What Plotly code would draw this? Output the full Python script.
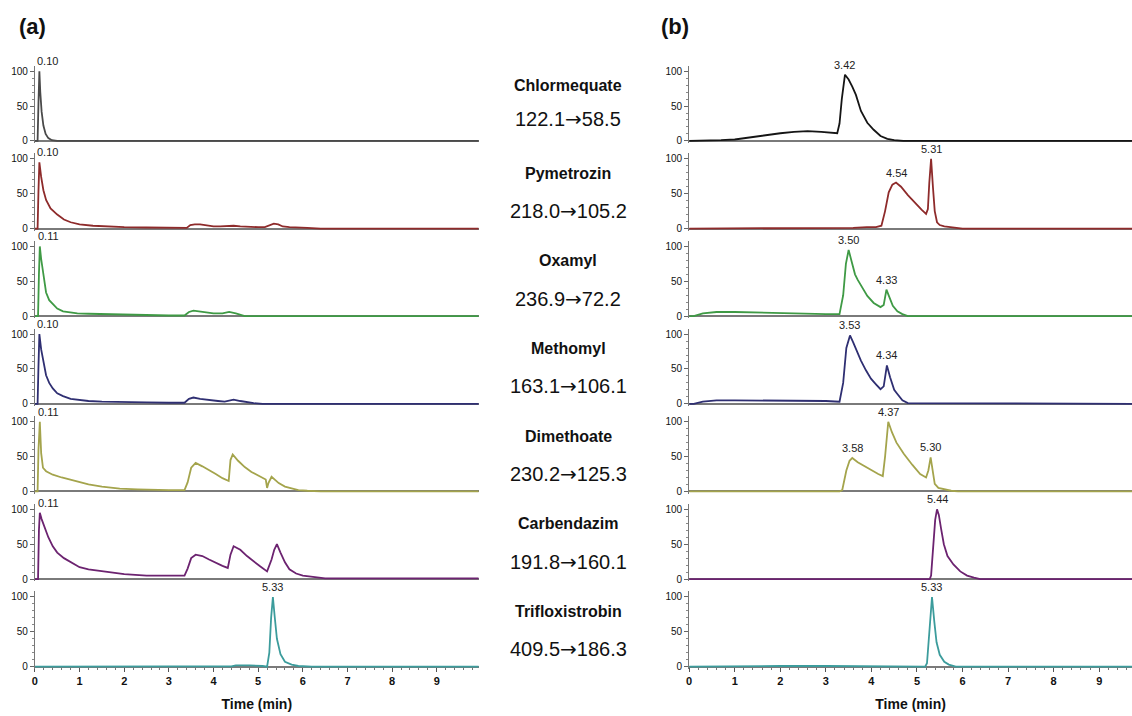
import plotly.graph_objects as go

# ---------------- data ----------------
compounds = ["Chlormequate", "Pymetrozin", "Oxamyl", "Methomyl",
             "Dimethoate", "Carbendazim", "Trifloxistrobin"]
precursor_ions = ["122.1", "218.0", "236.9", "163.1", "230.2", "191.8", "409.5"]
product_ions = ["58.5", "105.2", "72.2", "106.1", "125.3", "160.1", "186.3"]
time_ticks = [0, 1, 2, 3, 4, 5, 6, 7, 8, 9]
intensity_ticks = [0, 50, 100]

# (a) chromatograms: retention time (min) and relative intensity (%)
t_a_chlormequate = [0, 0.06, 0.08, 0.10, 0.12, 0.15, 0.19, 0.24, 0.30, 0.38, 0.5, 9.94]
i_a_chlormequate = [0, 0, 55, 100, 70, 42, 22, 10, 4, 1, 0, 0]

t_a_pymetrozin = [0, 0.06, 0.08, 0.10, 0.14, 0.19, 0.25, 0.35, 0.5, 0.65, 0.8, 1.0, 1.3, 1.6,
                  2.0, 2.5, 3.0, 3.4, 3.48, 3.58, 3.7, 3.85, 4.0, 4.15, 4.3, 4.45, 4.6, 4.8,
                  5.0, 5.15, 5.25, 5.35, 5.45, 5.55, 5.7, 5.9, 6.1, 6.4, 9.94]
i_a_pymetrozin = [0, 0, 55, 95, 74, 55, 41, 29, 20, 13, 9, 6, 4, 3,
                  2, 1.5, 1, 1, 5, 6, 6, 4, 3, 3, 4, 4, 3, 2,
                  2, 2, 5, 7, 6, 3, 2, 1, 1, 0, 0]

t_a_oxamyl = [0, 0.07, 0.09, 0.11, 0.14, 0.18, 0.25, 0.32, 0.4, 0.5, 0.63, 0.8, 0.95, 1.2,
              1.5, 2.0, 2.5, 3.0, 3.35, 3.45, 3.55, 3.7, 3.85, 4.0, 4.2, 4.35, 4.5, 4.6,
              4.7, 9.94]
i_a_oxamyl = [0, 0, 60, 100, 82, 62, 34, 23, 17, 11, 7, 5, 4, 3.5,
              3, 2, 2, 1, 1, 6, 8, 7, 5, 4, 4, 6, 4, 2,
              0, 0]

t_a_methomyl = [0, 0.06, 0.08, 0.10, 0.14, 0.18, 0.25, 0.32, 0.4, 0.5, 0.63, 0.8, 1.0, 1.2,
                1.5, 2.0, 2.5, 3.0, 3.35, 3.45, 3.55, 3.7, 3.9, 4.1, 4.25, 4.35, 4.45, 4.6,
                4.75, 4.9, 5.1, 9.94]
i_a_methomyl = [0, 0, 55, 100, 78, 65, 41, 30, 22, 15, 11, 7, 5, 4,
                3, 2, 2, 1.5, 1.5, 7, 9, 7, 5, 4, 3, 5, 6, 4,
                2, 1, 0, 0]

t_a_dimethoate = [0, 0.06, 0.08, 0.11, 0.14, 0.18, 0.25, 0.4, 0.6, 0.8, 1.0, 1.2, 1.5, 1.9,
                  2.3, 2.7, 3.0, 3.35, 3.42, 3.5, 3.6, 3.75, 3.9, 4.05, 4.2, 4.34, 4.38, 4.43,
                  4.55, 4.7, 4.85, 5.0, 5.17, 5.2, 5.23, 5.3, 5.38, 5.46, 5.6, 5.75, 5.9, 6.1,
                  6.4, 9.94]
i_a_dimethoate = [0, 0, 60, 100, 55, 34, 29, 24, 20, 17, 13, 10, 7, 4,
                  3, 2, 2, 2, 13, 34, 41, 36, 31, 25, 19, 15, 45, 53,
                  44, 35, 28, 23, 17, 5, 12, 21, 16, 12, 7, 4, 2, 1,
                  0, 0]

t_a_carbendazim = [0, 0.07, 0.09, 0.11, 0.15, 0.2, 0.3, 0.4, 0.5, 0.65, 0.8, 1.0, 1.2, 1.5,
                   1.8, 2.0, 2.5, 3.0, 3.35, 3.42, 3.5, 3.6, 3.75, 3.9, 4.05, 4.2, 4.32, 4.38,
                   4.45, 4.6, 4.75, 4.9, 5.05, 5.2, 5.3, 5.36, 5.42, 5.5, 5.6, 5.7, 5.85, 6.0,
                   6.2, 6.5, 9.94]
i_a_carbendazim = [0, 0, 70, 95, 86, 77, 60, 47, 38, 30, 24, 17, 14, 11,
                   9, 7, 5, 5, 5, 15, 30, 35, 33, 28, 23, 19, 16, 35,
                   47, 42, 33, 25, 18, 11, 28, 42, 50, 38, 24, 14, 8, 5,
                   3, 1, 1]

t_a_trifloxistrobin = [0, 1.0, 2.0, 3.0, 4.4, 4.5, 4.8, 5.0, 5.1, 5.2, 5.25, 5.29, 5.33, 5.37,
                       5.42, 5.5, 5.6, 5.75, 5.9, 6.2, 9.94]
i_a_trifloxistrobin = [0, 0.5, 0.5, 0.5, 0.5, 2, 2, 2, 1, 0, 20, 70, 100, 72,
                       40, 18, 7, 3, 1, 0, 0]

# (b) chromatograms
t_b_chlormequate = [0, 0.4, 0.7, 1.0, 1.3, 1.6, 2.0, 2.3, 2.6, 2.9, 3.1, 3.25, 3.3, 3.35,
                    3.42, 3.5, 3.58, 3.66, 3.77, 3.91, 4.05, 4.2, 4.35, 4.5, 4.7, 9.72]
i_b_chlormequate = [0, 0, 1, 2, 5, 8, 11, 13, 14, 13, 12, 11, 25, 60,
                    95, 88, 78, 66, 43, 26, 16, 7, 3, 1, 0, 0]

t_b_pymetrozin = [0, 3.3, 3.6, 3.9, 4.1, 4.22, 4.3, 4.38, 4.46, 4.54, 4.65, 4.8, 4.95, 5.1,
                  5.2, 5.24, 5.27, 5.31, 5.35, 5.39, 5.44, 5.5, 5.6, 5.8, 6.0, 9.72]
i_b_pymetrozin = [0, 0, 1, 2, 2, 4, 25, 52, 63, 66, 60, 48, 37, 27,
                  21, 28, 65, 100, 60, 25, 9, 5, 3, 1, 0, 0]

t_b_oxamyl = [0, 0.1, 0.3, 0.6, 1.0, 1.5, 2.0, 2.5, 3.0, 3.3, 3.38, 3.44, 3.5, 3.56,
              3.64, 3.7, 3.8, 3.91, 4.05, 4.2, 4.27, 4.33, 4.39, 4.47, 4.57, 4.68, 4.8, 9.72]
i_b_oxamyl = [0, 0, 4, 6, 6, 5, 4, 3, 3, 3, 30, 75, 95, 80,
              60, 52, 40, 29, 19, 13, 16, 38, 28, 15, 7, 3, 0, 0]

t_b_methomyl = [0, 0.1, 0.3, 0.6, 1.0, 1.5, 2.0, 2.5, 3.0, 3.3, 3.38, 3.45, 3.53, 3.6,
                3.68, 3.77, 3.88, 3.99, 4.1, 4.2, 4.27, 4.34, 4.41, 4.5, 4.57, 4.68, 4.8, 9.72]
i_b_methomyl = [0, 0, 3, 5, 5, 5, 5, 4, 4, 3, 30, 80, 98, 88,
                75, 62, 48, 36, 28, 21, 25, 55, 38, 20, 14, 5, 1, 0]

t_b_dimethoate = [0, 3.3, 3.36, 3.45, 3.52, 3.58, 3.7, 3.85, 4.0, 4.15, 4.25, 4.3, 4.37, 4.45,
                  4.55, 4.71, 4.9, 5.07, 5.2, 5.25, 5.3, 5.35, 5.39, 5.47, 5.59, 5.75, 5.9, 9.72]
i_b_dimethoate = [0, 0, 2, 30, 44, 48, 42, 36, 30, 25, 22, 50, 100, 85,
                  70, 54, 38, 25, 20, 30, 49, 30, 11, 5, 3, 1, 0, 0]

t_b_carbendazim = [0, 5.28, 5.31, 5.36, 5.40, 5.44, 5.48, 5.53, 5.59, 5.67, 5.8, 5.95, 6.1,
                   6.25, 6.39, 9.72]
i_b_carbendazim = [0, 0, 5, 50, 85, 100, 92, 72, 50, 33, 21, 11, 5,
                   2, 0, 0]

t_b_trifloxistrobin = [0, 1.0, 2.0, 3.0, 4.0, 4.4, 4.5, 5.18, 5.22, 5.27, 5.33, 5.38, 5.43,
                       5.5, 5.6, 5.7, 5.85, 9.72]
i_b_trifloxistrobin = [0, 1, 1, 1, 1, 1, 0, 0, 5, 55, 100, 65, 35,
                       17, 7, 3, 0, 0]

# labelled apexes: (retention time, relative intensity)
peaks_a = [[(0.10, 100)], [(0.10, 95)], [(0.11, 100)], [(0.10, 100)],
           [(0.11, 100)], [(0.11, 95)], [(5.33, 100)]]
peaks_b = [[(3.42, 95)], [(4.54, 66), (5.31, 100)], [(3.50, 95), (4.33, 38)],
           [(3.53, 98), (4.34, 55)], [(3.58, 48), (4.37, 100), (5.30, 49)],
           [(5.44, 100)], [(5.33, 100)]]

series_a = [(t_a_chlormequate, i_a_chlormequate), (t_a_pymetrozin, i_a_pymetrozin),
            (t_a_oxamyl, i_a_oxamyl), (t_a_methomyl, i_a_methomyl),
            (t_a_dimethoate, i_a_dimethoate), (t_a_carbendazim, i_a_carbendazim),
            (t_a_trifloxistrobin, i_a_trifloxistrobin)]
series_b = [(t_b_chlormequate, i_b_chlormequate), (t_b_pymetrozin, i_b_pymetrozin),
            (t_b_oxamyl, i_b_oxamyl), (t_b_methomyl, i_b_methomyl),
            (t_b_dimethoate, i_b_dimethoate), (t_b_carbendazim, i_b_carbendazim),
            (t_b_trifloxistrobin, i_b_trifloxistrobin)]

# ---------------- styling / layout ----------------
W, H = 1132, 716
FONT = "Liberation Sans, Arial, sans-serif"
ARROW_FONT = "DejaVu Sans"
colors_a = ["#4a4a4a", "#8e2b2b", "#3f9a45", "#2f2f72", "#a4a44c", "#6c2370", "#3c9c9c"]
colors_b = ["#151515", "#8e2b2b", "#3f9a45", "#2f2f72", "#a4a44c", "#6c2370", "#3c9c9c"]

X_DOM = [(32, 477), (688, 1132)]
X_MAX = [9.94, 9.72]
Y_MIN, Y_MAX = -3, 108
PX_PER_UNIT = 0.7


def fy(px):
    return 1 - px / H


def fx(px):
    return px / W


fig = go.Figure()
layout = {}
annotations = []

for r in range(7):
    zero_px = 141.5 + 88 * r
    top_px = zero_px - Y_MAX * PX_PER_UNIT
    bot_px = zero_px - Y_MIN * PX_PER_UNIT
    last = r == 6
    for c, (series, colors, peaks) in enumerate(((series_a, colors_a, peaks_a),
                                                 (series_b, colors_b, peaks_b))):
        k = r * 2 + c + 1
        xa, ya = f"x{k}", f"y{k}"
        t, inten = series[r]
        fig.add_trace(go.Scatter(x=t, y=inten, mode="lines", xaxis=xa, yaxis=ya,
                                 line=dict(color=colors[r], width=1.8),
                                 hoverinfo="skip", showlegend=False))
        xdict = dict(domain=[fx(X_DOM[c][0]), fx(X_DOM[c][1])], range=[0, X_MAX[c]],
                     anchor="free", position=fy(zero_px), showgrid=False, zeroline=False,
                     showline=True, linecolor="#7a7a7a", linewidth=2, layer="below traces",
                     fixedrange=True)
        if last:
            xdict.update(tickmode="array", tickvals=time_ticks, ticks="outside", ticklen=4,
                         tickcolor="#555", tickwidth=1,
                         tickfont=dict(family=FONT, size=11, color="#111", weight="bold"),
                         minor=dict(dtick=0.2, ticks="outside", ticklen=2, tickcolor="#777"),
                         title=dict(text="Time (min)", standoff=12,
                                    font=dict(family=FONT, size=14, color="#111",
                                              weight="bold")))
        else:
            xdict.update(showticklabels=False, ticks="")
        layout["xaxis" if k == 1 else f"xaxis{k}"] = xdict
        layout["yaxis" if k == 1 else f"yaxis{k}"] = dict(
            domain=[fy(bot_px), fy(top_px)], range=[Y_MIN, Y_MAX], anchor=xa,
            showgrid=False, zeroline=False, showline=True, linecolor="#777", linewidth=1,
            tickmode="array", tickvals=intensity_ticks, ticks="outside", ticklen=4,
            tickcolor="#666", tickfont=dict(family=FONT, size=10, color="#111"),
            minor=dict(dtick=10, ticks="outside", ticklen=2, tickcolor="#888"),
            fixedrange=True)
        for (pt, pv) in peaks[r]:
            left_label = c == 0 and pt < 1
            annotations.append(dict(
                x=pt, y=pv, xref=xa, yref=ya, text=f"{pt:.2f}", showarrow=False,
                xanchor="left" if left_label else "center", yanchor="bottom",
                xshift=-4 if left_label else 0, yshift=2,
                font=dict(family=FONT, size=11, color="#222")))

name_px = [86, 174, 262, 350, 438, 526, 614]
trans_px = [119, 212, 300, 388, 476, 564, 652]
for r in range(7):
    annotations.append(dict(x=fx(567), y=fy(name_px[r]), xref="paper", yref="paper",
                            text=compounds[r], showarrow=False, xanchor="center",
                            yanchor="middle",
                            font=dict(family=FONT, size=16, color="#111", weight="bold")))
    trans_text = (f"{precursor_ions[r]}<span style=\"font-family:{ARROW_FONT}\">\u2192</span>"
                  f"{product_ions[r]}")
    annotations.append(dict(x=fx(567), y=fy(trans_px[r]), xref="paper", yref="paper",
                            text=trans_text, showarrow=False, xanchor="center",
                            yanchor="middle", font=dict(family=FONT, size=20, color="#111")))

for lab, px_x in (("(a)", 14), ("(b)", 658)):
    annotations.append(dict(x=fx(px_x), y=fy(27), xref="paper", yref="paper", text=lab,
                            showarrow=False, xanchor="left", yanchor="middle",
                            font=dict(family=FONT, size=22, color="#111", weight="bold")))

fig.update_layout(**layout)
fig.update_layout(width=W, height=H, margin=dict(l=0, r=0, t=0, b=0),
                  paper_bgcolor="white", plot_bgcolor="white",
                  annotations=annotations, showlegend=False)

fig.write_html("out.html", config={"displayModeBar": False})
